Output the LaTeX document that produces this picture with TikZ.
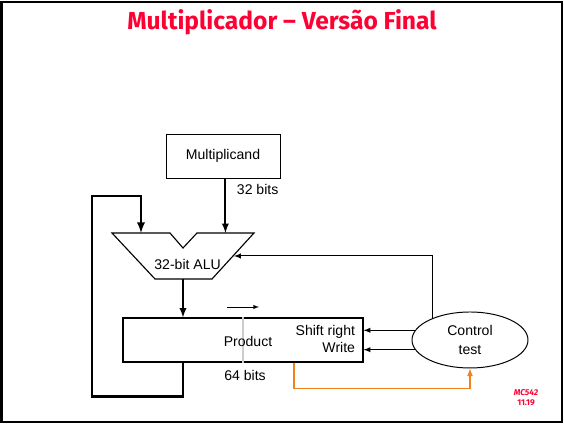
\documentclass[tikz,border=0pt]{standalone}
\usepackage{fontspec}
\setmainfont{Liberation Sans}
\newfontfamily\titlefont{Fira Sans}
\usetikzlibrary{positioning,shapes.geometric}
\definecolor{slidered}{RGB}{255,0,51}
\definecolor{busorange}{RGB}{240,130,30}

\begin{document}
\begin{tikzpicture}[>=latex, font=\fontsize{10}{12.5}\selectfont]
        \useasboundingbox (0,0) rectangle (14.1,10.6);
        % slide frame and title
        \draw[line width=2pt] (0.035,0.05) rectangle (14.05,10.55);
        \node[font=\titlefont\bfseries\fontsize{17.5}{20}\selectfont, text=slidered] (title) at (7.05,10.05) {Multiplicador – Versão Final};

        \node[draw, minimum width=2.85cm, minimum height=1.1cm] (mcand) at (5.575,6.7) {Multiplicand};
        \node[right] (mbits) at (5.8,5.875) {32 bits};

        % ALU with the notch on top
        \draw[line width=0.8pt] (2.8,4.775) -- (4.25,4.775) -- (4.575,4.4) -- (4.925,4.775) -- (6.35,4.775) -- (5.3,3.625) -- (3.875,3.625) -- cycle;
        \node (alu) at (4.69,4.0) {32-bit ALU};
        \coordinate (aluin) at (3.525,4.775);
        \coordinate (aluout) at (4.575,3.625);
        \coordinate (aluright) at (5.85,4.2);
        \coordinate (loopcorner) at (2.3,5.7);

        % product register
        \node[draw, line width=0.8pt, minimum width=6cm, minimum height=1.1cm] (prod) at (6.075,2.1) {};
        \draw[gray!40, line width=1pt] (prod.north) -- (prod.south);
        \node (ptext) at (6.2,2.075) {Product};
        \node[anchor=east, align=right] (pctl) at (9.0,2.125) {Shift right\\Write};
        \node (pbits) at (6.125,1.225) {64 bits};
        \coordinate (shl) at (5.675,2.925);
        \coordinate (shr) at (6.475,2.925);
        \draw[->] (shl) -- (shr);

        \node[draw, ellipse, line width=0.7pt, minimum width=2.9cm, minimum height=1.4cm, align=center, font=\fontsize{10}{13.5}\selectfont] (ctrl) at (11.75,2.1) {Control\\test};

        % data paths
        \draw[->, line width=1.3pt] ([xshift=0.06cm]mcand.south) -- ([xshift=0.06cm]mcand.south |- aluin);
        \draw[->, line width=1.3pt] (aluout) -- (aluout |- prod.north);
        \draw[->, line width=1.6pt] (aluout |- prod.south) -- ++(0,-0.85) -| (loopcorner) -| (aluin);

        % control signals
        \draw[->, line width=0.7pt] (ctrl.150) |- (aluright);
        \draw[->, line width=0.7pt] (ctrl.170) -- (ctrl.170 -| prod.east);
        \draw[->, line width=0.7pt] (ctrl.190) -- (ctrl.190 -| prod.east);
        \draw[->, busorange, line width=0.9pt] ([xshift=1.275cm]prod.south) -- ++(0,-0.65) -| (ctrl.south);

        \node[font=\titlefont\bfseries\itshape\fontsize{6}{7}\selectfont, text=slidered] (course) at (13.15,0.775) {MC542};
        \node[font=\titlefont\bfseries\fontsize{6}{7}\selectfont, text=slidered] (slideno) at (13.15,0.525) {11.19};
    \end{tikzpicture}
\end{document}
